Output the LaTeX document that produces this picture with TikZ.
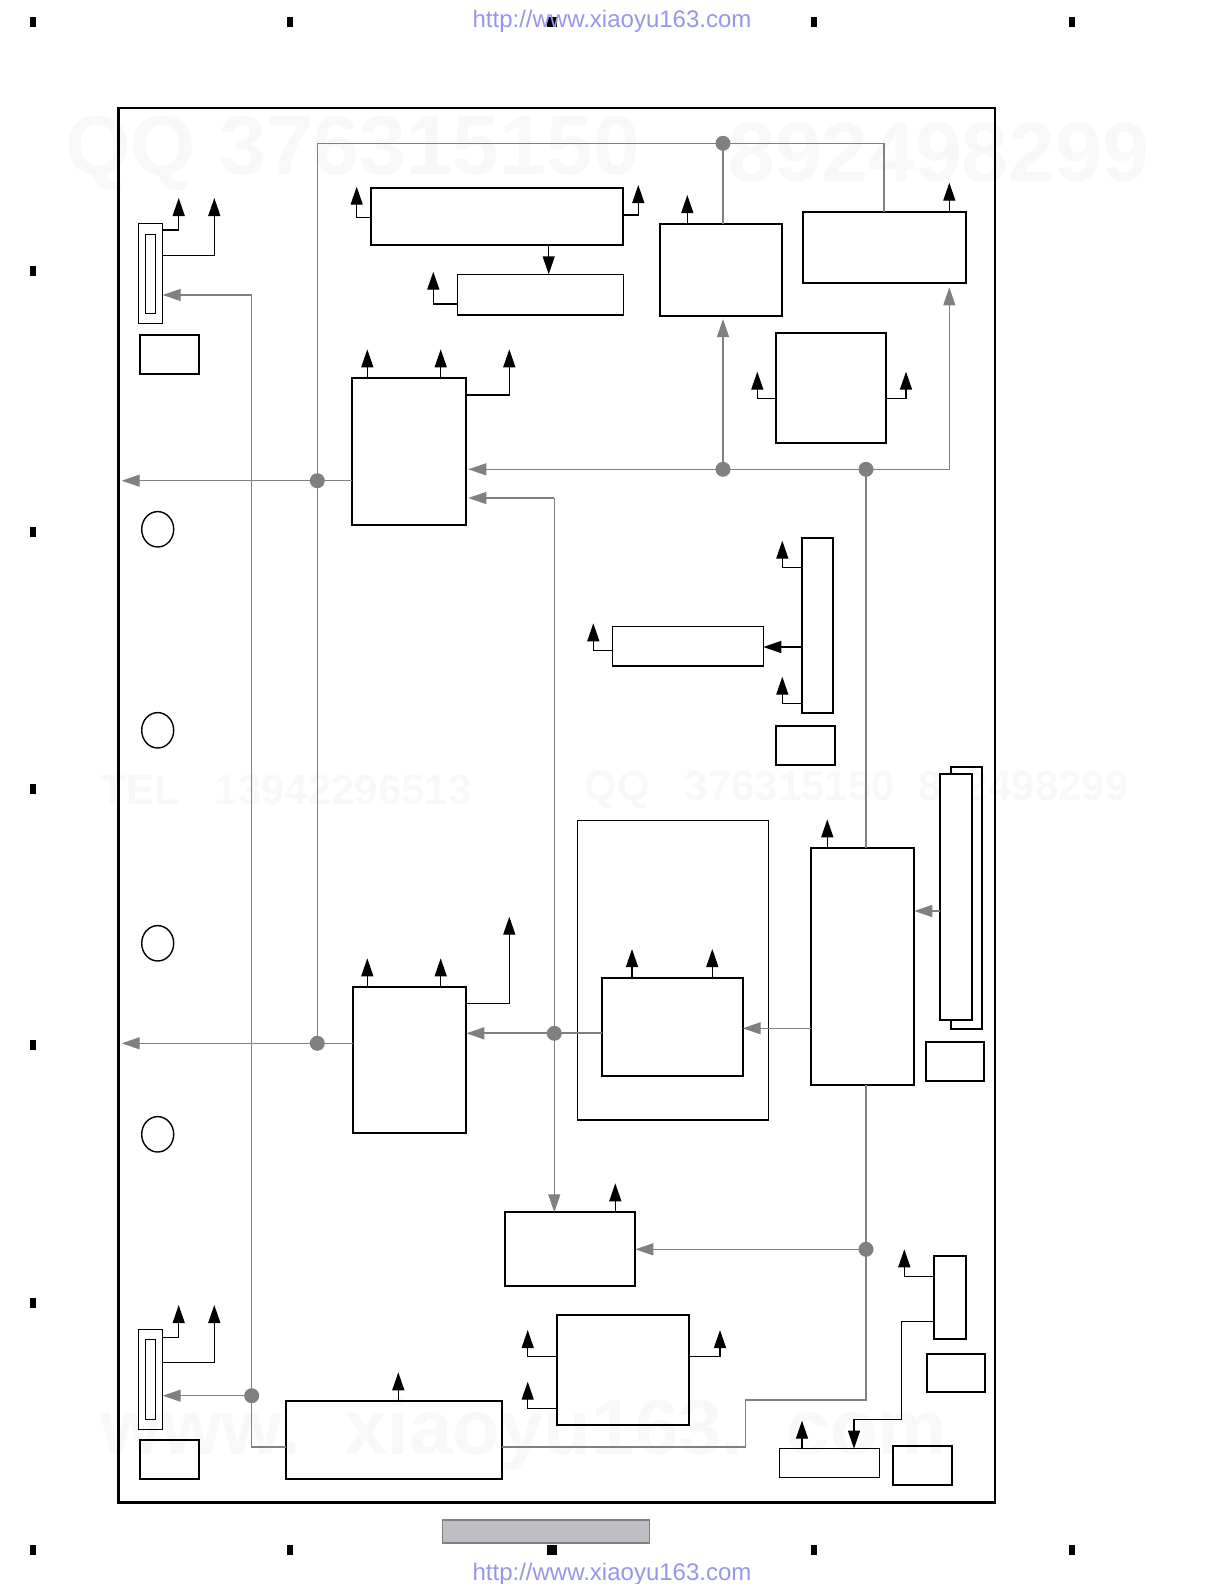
\documentclass[tikz,border=0pt]{standalone}
\usepackage{fontspec}
\setmainfont{Liberation Sans}
\usetikzlibrary{arrows.meta,shapes.geometric}
\definecolor{gl}{RGB}{128,128,128}
\definecolor{urlc}{RGB}{150,150,235}
\definecolor{wm}{RGB}{248,248,248}
\definecolor{padc}{RGB}{190,190,196}
\newcommand\mybx[6][]{%
  \pgfmathsetmacro\bxw{(#5-#3)*0.5}%
  \pgfmathsetmacro\bxh{(#6-#4)*0.5}%
  \node[box,minimum width=\bxw pt,minimum height=\bxh pt,#1] (#2) at ({(#3+#5)/2},{(#4+#6)/2}) {};}
\begin{document}
\begin{tikzpicture}[x=0.5pt,y=-0.5pt,
  box/.style={draw,line width=1pt,inner sep=0pt,outer sep=0pt},
  thinbox/.style={line width=0.7pt},
  frame/.style={line width=1.3pt},
  outarr/.style={draw,line width=0.7pt,-{Triangle[length=9pt,width=6pt]}},
  garr/.style={draw=gl,line width=0.6pt,-{Triangle[length=9pt,width=6pt,fill=gl]}},
  gline/.style={draw=gl,line width=0.6pt},
  gdot/.style={circle,fill=gl,minimum size=7.5pt,inner sep=0pt},
  hole/.style={draw,ellipse,line width=0.7pt,minimum width=16pt,minimum height=17.7pt,inner sep=0pt},
  regmark/.style={fill=black},
  wmark/.style={text=wm,font=\bfseries\fontsize{42}{42}\selectfont,inner sep=0pt},
  wmarkb/.style={text=wm,font=\bfseries\fontsize{39}{39}\selectfont,inner sep=0pt},
  wmarks/.style={text=wm,font=\bfseries\fontsize{21}{21}\selectfont,inner sep=0pt},
  url/.style={text=urlc,font=\fontsize{12}{12}\selectfont,inner sep=0pt}]
\useasboundingbox (0,0) rectangle (1224,1584);

% faint watermarks
\node[wmark,anchor=west] (wm1) at (65,153) {QQ 376315150};
\node[wmark,anchor=west] (wm2) at (728,153) {892498299};
\node[wmarks,anchor=west] (wm3) at (100,790) {TEL\ \ \ 13942296513};
\node[wmarks,anchor=west] (wm4) at (584,790) {QQ\ \ \ 376315150\ \ 892498299};
\node[wmarkb,anchor=west] (wm5) at (100,1434) {www.\ \ xiaoyu163.\ \ com};

% registration marks
\foreach \mx in {33,290,814,1072}{
  \fill[regmark] (\mx-3,17) rectangle (\mx+3,27);
  \fill[regmark] (\mx-3,1545) rectangle (\mx+3,1555);}
\fill[regmark] (547,17) rectangle (557,27);
\fill[regmark] (547,1545) rectangle (557,1555);
\foreach \my in {270.6,532.2,788.7,1045.2,1302.8}{
  \fill[regmark] (30,\my-5) rectangle (36,\my+5);}

% urls
\node[url] (url1) at (612,21) {http://www.xiaoyu163.com};
\node[url] (url2) at (612,1574) {http://www.xiaoyu163.com};

% bottom pad
\filldraw[fill=padc,draw=gl,line width=0.6pt] (442.3,1520) rectangle (649.4,1543);

% frame
\mybx[frame]{frame}{118.3}{108}{995}{1502.7}

% boxes
\mybx{A}{370.7}{188}{623.3}{245}
\mybx[thinbox]{A2}{457.3}{274.3}{623.3}{315}
\mybx{C}{660.3}{223.7}{782.3}{316}
\mybx{D}{803.3}{211.7}{966.3}{283.3}
\mybx{E}{776.3}{333.3}{885.7}{443.3}
\mybx{B1}{352.3}{378.3}{466.3}{525}
\mybx{F}{801.7}{538.3}{833.3}{713}
\mybx[thinbox]{G}{612.3}{626.7}{763.3}{666}
\mybx{Fs}{776.3}{725.7}{835}{765}
\mybx[thinbox]{H}{577.3}{820.7}{768.7}{1120}
\mybx{I}{601.7}{977.7}{742.7}{1076}
\mybx{J}{810.7}{848.3}{914.3}{1085}
\mybx{Kb}{950.7}{766.7}{982}{1029.3}
\mybx[fill=white]{K}{940.3}{773.7}{972}{1019.7}
\mybx{Ks}{925.7}{1041.7}{984}{1081}
\mybx{B2}{352.7}{987}{466.3}{1132.7}
\mybx{L}{504.7}{1212.3}{635.3}{1286}
\mybx{N}{557.3}{1314.7}{689}{1425.3}
\mybx{M}{285.7}{1401.3}{502.3}{1479}
\mybx{P}{934.3}{1255.7}{966.3}{1339}
\mybx{S}{926.7}{1353.7}{985.3}{1392.3}
\mybx[thinbox]{Q}{779.3}{1448.7}{879.3}{1477.3}
\mybx{R}{893.3}{1445.7}{952.3}{1485}
\mybx[thinbox]{TLo}{138.3}{223.7}{162.7}{323.7}
\mybx[thinbox]{TLi}{145.3}{234.3}{155.3}{313.3}
\mybx[line width=0.85pt]{TLs}{140.3}{335.3}{199.3}{374.3}
\mybx[thinbox]{BLo}{138.3}{1329.3}{162.7}{1429.3}
\mybx[thinbox]{BLi}{145.3}{1339.3}{155.3}{1419.3}
\mybx[line width=0.85pt]{BLs}{140.3}{1440.3}{199.3}{1479.3}

% mounting holes
\node[hole] (c1) at (157.7,529.3) {};
\node[hole] (c2) at (157.7,730.3) {};
\node[hole] (c3) at (157.7,943.3) {};
\node[hole] (c4) at (157.7,1134.3) {};

% gray junction coordinates
\coordinate (d1) at (723,143.3);
\coordinate (d2) at (317.3,480.7);
\coordinate (d3) at (317.3,1043.3);
\coordinate (d4) at (723,469.3);
\coordinate (d5) at (866,469.3);
\coordinate (d6) at (554.3,1033.3);
\coordinate (d7) at (866,1249.3);
\coordinate (d8) at (251.7,1395.7);
\coordinate (busTop) at (317.3,143.3);
\coordinate (busR) at (884,143.3);
\coordinate (xl) at (251.7,295);
\coordinate (y498) at (554.3,498);
\coordinate (pD) at (949.3,469.3);
\coordinate (l1) at (866,1400);
\coordinate (l2) at (745.3,1400);
\coordinate (l3) at (745.3,1447);
\coordinate (l4) at (251.7,1447);
\coordinate (lt1) at (121.7,480.7);
\coordinate (lt2) at (121.7,1043.3);
\coordinate (hJI) at (0,1028.3);
\coordinate (hKJ) at (0,911);

% gray connectors
\draw[gline] (d3) -- (busTop) -- (d1) -- (busR) -- (D.north -| busR);
\draw[gline] (d1) -- (C.north -| d1);
\draw[garr] (d2) -- (lt1);
\draw[gline] (d2) -- (B1.west |- d2);
\draw[garr] (d3) -- (lt2);
\draw[gline] (d3) -- (B2.west |- d3);
\draw[garr,shorten >=1pt] (d4) -- (B1.east |- d4);
\draw[gline] (d4) -- (d5);
\draw[garr,shorten >=2pt] (d5) -| (D.south -| pD);
\draw[garr,shorten >=1.5pt] (d4) -- (C.south -| d4);
\draw[gline] (d5) -- (J.north -| d5);
\draw[gline] (J.south -| d5) -- (d7);
\draw[garr] (d7) -- (L.east |- d7);
\draw[gline] (d7) -- (l1) -- (l2) -- (l3) -- (M.east |- l3);
\draw[garr,shorten >=1pt] (y498) -- (B1.east |- y498);
\draw[garr] (y498) -- (L.north -| y498);
\draw[garr,line width=0.9pt] (d6) -- (B2.east |- d6);
\draw[gline,line width=0.9pt] (d6) -- (I.west |- d6);
\draw[garr] (J.west |- hJI) -- (I.east |- hJI);
\draw[garr,line width=0.9pt] (K.west |- hKJ) -- (J.east |- hKJ);
\draw[garr] (xl) -- (TLo.east |- xl);
\draw[gline] (xl) -- (l4) -- (M.west |- l4);
\draw[garr] (d8) -- (BLo.east |- d8);

\foreach \d in {d1,d2,d3,d4,d5,d6,d7,d8}{\node[gdot] at (\d) {};}

% black output arrows: tips and bend levels
\coordinate (t1) at (178.7,198);   \coordinate (t2) at (214.3,198);
\coordinate (t3) at (356.7,186.7); \coordinate (t4) at (638.3,185);
\coordinate (t6) at (433.3,271.7); \coordinate (t7) at (687.3,195);
\coordinate (t8) at (949.3,182.7);
\coordinate (t9) at (757.3,371.7); \coordinate (t10) at (906,371.7);
\coordinate (t11) at (367.3,349.3); \coordinate (t12) at (440.7,349.3);
\coordinate (t13) at (509.3,349.3);
\coordinate (t14) at (782.3,540.7); \coordinate (t15) at (782.3,676.7);
\coordinate (t16) at (593.3,623.3); \coordinate (t17) at (827.3,819.3);
\coordinate (t18) at (632,949);     \coordinate (t19) at (712.3,949);
\coordinate (t20) at (367.3,958.3); \coordinate (t21) at (440.7,958.3);
\coordinate (t22) at (509.3,916.7); \coordinate (t23) at (615.3,1183.3);
\coordinate (t24) at (178.7,1305);  \coordinate (t25) at (214.3,1305);
\coordinate (t26) at (398.3,1372.3);
\coordinate (t27) at (527.7,1330);  \coordinate (t28) at (527.7,1381.7);
\coordinate (t29) at (720,1330);
\coordinate (t30) at (904.3,1249.3); \coordinate (t31) at (802,1420.7);
\coordinate (h1) at (0,230);   \coordinate (h2) at (0,255.3);
\coordinate (h3) at (0,217.3); \coordinate (h4) at (0,215);
\coordinate (h6) at (0,304);   \coordinate (h9) at (0,398.3);
\coordinate (h13) at (0,395);  \coordinate (h14) at (0,567.3);
\coordinate (h15) at (0,703.3); \coordinate (hFG) at (0,647);
\coordinate (h16) at (0,650.3); \coordinate (h22) at (0,1003.3);
\coordinate (h24) at (0,1337.3); \coordinate (h25) at (0,1362.3);
\coordinate (h27) at (0,1356.7); \coordinate (h28) at (0,1408.3);
\coordinate (h30) at (0,1276.3); \coordinate (hPQ) at (0,1321.7);
\coordinate (A2x) at (548.7,0);
\coordinate (q1) at (901.3,1419.3); \coordinate (q2) at (854,1419.3);

\draw[outarr] (TLo.east |- h1) -| (t1);
\draw[outarr] (TLo.east |- h2) -| (t2);
\draw[outarr] (A.west |- h3) -| (t3);
\draw[outarr] (A.east |- h4) -| (t4);
\draw[outarr] (A.south -| A2x) -- (A2.north -| A2x);
\draw[outarr] (A2.west |- h6) -| (t6);
\draw[outarr] (C.north -| t7) -- (t7);
\draw[outarr] (D.north -| t8) -- (t8);
\draw[outarr] (E.west |- h9) -| (t9);
\draw[outarr] (E.east |- h9) -| (t10);
\draw[outarr] (B1.north -| t11) -- (t11);
\draw[outarr] (B1.north -| t12) -- (t12);
\draw[outarr] (B1.east |- h13) -| (t13);
\draw[outarr] (F.west |- h14) -| (t14);
\draw[outarr] (F.west |- h15) -| (t15);
\draw[outarr] (F.west |- hFG) -- (G.east |- hFG);
\draw[outarr] (G.west |- h16) -| (t16);
\draw[outarr] (J.north -| t17) -- (t17);
\draw[outarr] (I.north -| t18) -- (t18);
\draw[outarr] (I.north -| t19) -- (t19);
\draw[outarr] (B2.north -| t20) -- (t20);
\draw[outarr] (B2.north -| t21) -- (t21);
\draw[outarr] (B2.east |- h22) -| (t22);
\draw[outarr] (L.north -| t23) -- (t23);
\draw[outarr] (BLo.east |- h24) -| (t24);
\draw[outarr] (BLo.east |- h25) -| (t25);
\draw[outarr] (M.north -| t26) -- (t26);
\draw[outarr] (N.west |- h27) -| (t27);
\draw[outarr] (N.west |- h28) -| (t28);
\draw[outarr] (N.east |- h27) -| (t29);
\draw[outarr] (P.west |- h30) -| (t30);
\draw[outarr] (P.west |- hPQ) -| (q1) -- (q2) -- (Q.north -| q2);
\draw[outarr] (Q.north -| t31) -- (t31);
\end{tikzpicture}
\end{document}
